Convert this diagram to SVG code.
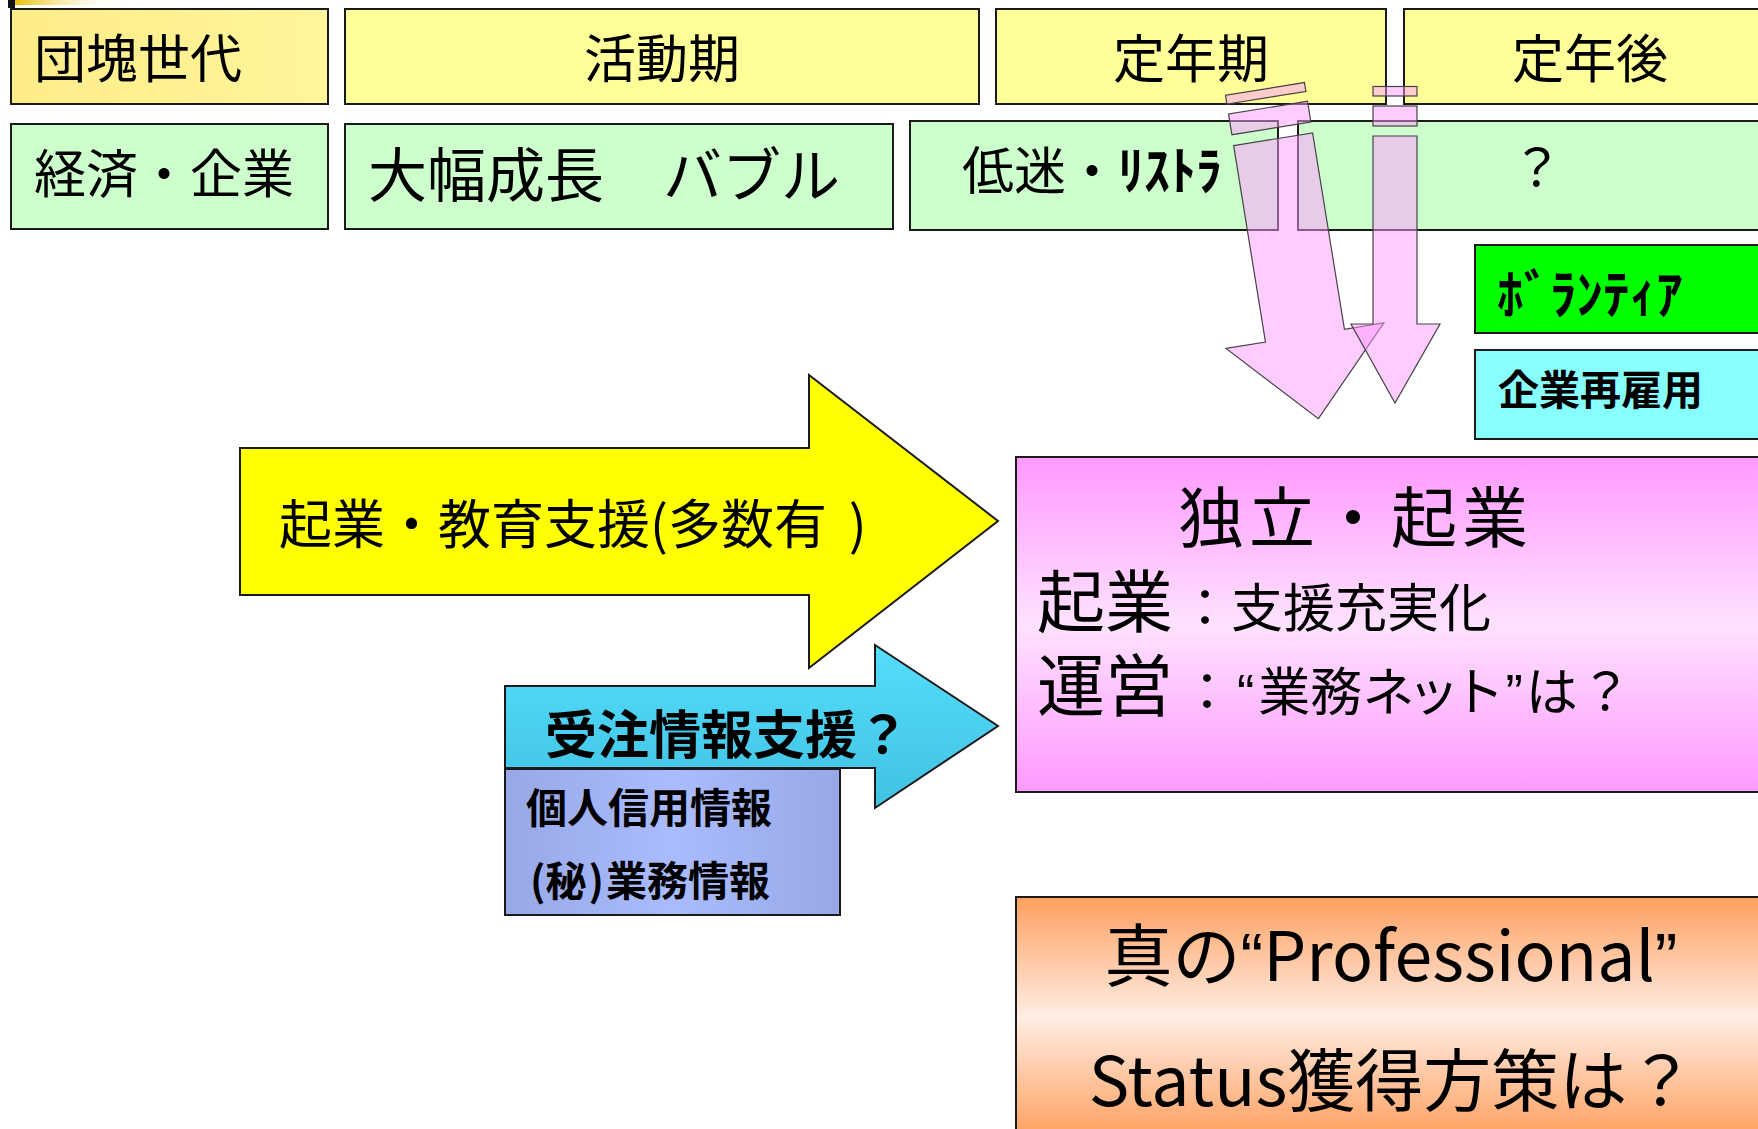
<svg xmlns="http://www.w3.org/2000/svg" width="1758" height="1129" viewBox="0 0 1758 1129">
<defs>
<linearGradient id="gTop" x1="0" y1="0" x2="1" y2="0"><stop offset="0" stop-color="#E8BE00"/><stop offset="1" stop-color="#FFFFFF" stop-opacity="0"/></linearGradient>
<linearGradient id="gGold" x1="0" y1="0" x2="1" y2="0"><stop offset="0" stop-color="#FFEC88"/><stop offset="1" stop-color="#FFF59C"/></linearGradient>
<linearGradient id="gCyan" x1="0" y1="0" x2="0" y2="1"><stop offset="0" stop-color="#55DDFC"/><stop offset="1" stop-color="#40C2E2"/></linearGradient>
<linearGradient id="gBlue" x1="0" y1="0" x2="1" y2="0"><stop offset="0" stop-color="#98A8E6"/><stop offset="0.5" stop-color="#AABCFF"/><stop offset="1" stop-color="#98A8E6"/></linearGradient>
<linearGradient id="gPink" x1="0" y1="0" x2="0" y2="1"><stop offset="0" stop-color="#FF99FF"/><stop offset="0.5" stop-color="#FFE2FF"/><stop offset="1" stop-color="#FF99FF"/></linearGradient>
<linearGradient id="gOrange" x1="0" y1="0" x2="0" y2="1"><stop offset="0" stop-color="#FFA05F"/><stop offset="0.5" stop-color="#FFEDE4"/><stop offset="1" stop-color="#FFA05F"/></linearGradient>
</defs>
<style>
.box{stroke:#1a1a1a;stroke-width:2}
.yel{fill:#FFFF99}
.grn{fill:#CCFFCC}
.t{font-family:"Noto Sans CJK JP","Noto Sans CJK SC",sans-serif;fill:#000}
.tl{font-family:"Liberation Sans","Noto Sans CJK JP","Noto Sans CJK SC",sans-serif;fill:#000}
.b{font-weight:bold}
.q{font-family:"Liberation Sans",sans-serif}
.pk{fill:#FF99FF;fill-opacity:0.5;stroke:#444;stroke-width:1.2}
</style>
<rect width="1758" height="1129" fill="#FFFFFF"/>
<g id="corner">
<rect x="14" y="0" width="108" height="5" fill="url(#gTop)"/>
<rect x="8" y="0" width="7" height="8" fill="#111"/>
</g>
<g id="n-dankai"><rect class="box" x="11" y="9" width="317" height="95" fill="url(#gGold)"/><text class="t" x="34" y="78" font-size="52">団塊世代</text></g>
<g id="n-katsudo"><rect class="box yel" x="345" y="9" width="634" height="95"/><text class="t" x="662" y="78" font-size="52" text-anchor="middle">活動期</text></g>
<g id="n-teinenki"><rect class="box yel" x="996" y="9" width="390" height="95"/><text class="t" x="1191" y="78" font-size="52" text-anchor="middle">定年期</text></g>
<g id="n-teinengo"><rect class="box yel" x="1404" y="9" width="380" height="95"/><text class="t" x="1590" y="78" font-size="52" text-anchor="middle">定年後</text></g>
<g id="n-keizai"><rect class="box grn" x="11" y="124" width="317" height="105"/><text class="t" x="34" y="193" font-size="52">経済・企業</text></g>
<g id="n-oohaba"><rect class="box grn" x="345" y="124" width="548" height="105"/><text class="t" x="368" y="197" font-size="59">大幅成長　バブル</text></g>
<g id="n-teimei"><rect class="box grn" x="910" y="121" width="368" height="109"/><text class="t" x="962" y="190" font-size="52">低迷・<tspan font-weight="bold">ﾘｽﾄﾗ</tspan></text></g>
<g id="n-hatena"><rect class="box grn" x="1298" y="121" width="480" height="109"/><text class="t" x="1537" y="187" font-size="52" text-anchor="middle">？</text></g>
<g id="n-volunteer"><rect class="box" x="1475" y="245" width="300" height="88" fill="#00FF00"/><text class="t b" x="1497" y="314" font-size="53">ﾎﾞﾗﾝﾃｨｱ</text></g>
<g id="n-saikoyo"><rect class="box" x="1475" y="350" width="300" height="89" fill="#88FFFF"/><text class="t b" x="1498" y="405" font-size="41">企業再雇用</text></g>
<g id="n-kigyo-shien"><polygon class="box" points="240,448 809,448 809,375 998,521 809,668 809,595 240,595" fill="#FFFF00"/><text class="t" x="279" y="544" font-size="53">起業・教育支援(多数有<tspan dx="6"> </tspan><tspan dx="4">)</tspan></text></g>
<g id="n-juchu"><polygon class="box" points="505,686 875,686 875,645 998,726 875,808 875,768 505,768" fill="url(#gCyan)"/><text class="t b" x="545" y="754" font-size="52">受注情報支援？</text></g>
<g id="n-kojin"><rect class="box" x="505" y="769" width="335" height="146" fill="url(#gBlue)"/><text class="t b" x="526" y="823" font-size="41">個人信用情報</text><text class="t b" x="530" y="896" font-size="41">(秘<tspan dx="2">)</tspan><tspan dx="2">業務情報</tspan></text></g>
<g id="n-dokuritsu"><rect class="box" x="1016" y="457" width="760" height="335" fill="url(#gPink)"/>
<text class="tl" x="1178" y="542" font-size="66" letter-spacing="5">独立・起業</text>
<text class="tl" x="1037" y="627" font-size="68">起業<tspan font-size="52" dx="6">：支援充実化</tspan></text>
<text class="tl" x="1037" y="711" font-size="68">運営<tspan font-size="52" dx="8">：</tspan><tspan font-size="52" dx="4">“</tspan><tspan font-size="52" dx="4">業務</tspan><tspan font-size="52" letter-spacing="-7">ネット</tspan><tspan font-size="52" dx="8">”</tspan><tspan font-size="52" dx="3">は</tspan><tspan font-size="52" dx="2">？</tspan></text>
</g>
<g id="n-professional"><rect class="box" x="1016" y="897" width="760" height="240" fill="url(#gOrange)"/>
<text class="t" x="1391" y="981" font-size="68" text-anchor="middle">真の<tspan class="q">“</tspan>Professional<tspan class="q">”</tspan></text>
<text class="t" x="1392" y="1106" font-size="68" text-anchor="middle">Status獲得方策は？</text>
</g>
<g id="connectors">
<g id="arrow-teinenki" transform="translate(1225.5,95.3) rotate(-9.2)">
<rect class="pk" x="0" y="0" width="80" height="9"/>
<rect class="pk" x="0" y="19" width="80" height="21"/>
<polygon class="pk" points="0,51 80,51 80,250 120,250 40,334 -40,250 0,250"/>
</g>
<g id="arrow-teinengo">
<rect class="pk" x="1373" y="86.5" width="44" height="9.5"/>
<rect class="pk" x="1373" y="106" width="44" height="20"/>
<polygon class="pk" points="1373,136 1417,136 1417,324 1440,324 1395,403 1351,324 1373,324"/>
</g>
</g>
</svg>
